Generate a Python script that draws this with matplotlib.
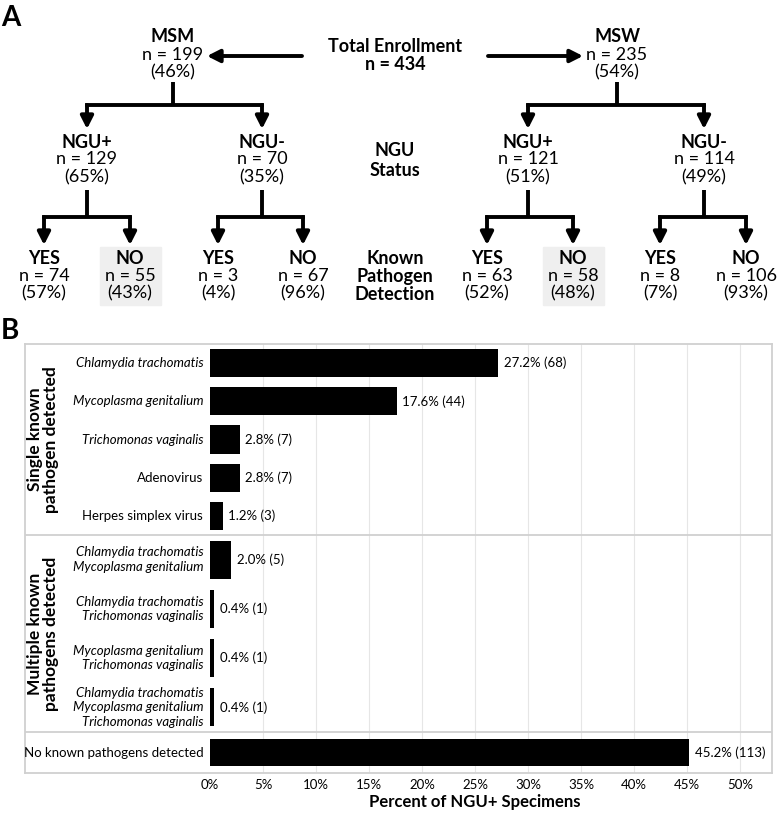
import matplotlib
matplotlib.use('Agg')
import matplotlib.pyplot as plt
from matplotlib.patches import Rectangle

plt.rcParams['font.family'] = ['Lato', 'DejaVu Sans']

# ---- panel A data ----
total_n = 434
pop_labels = ['MSM', 'MSW']
pop_n = [199, 235]
pop_pct = [46, 54]
ngu_labels = ['NGU+', 'NGU-']
ngu_n = [[129, 70], [121, 114]]
ngu_pct = [[65, 35], [51, 49]]
det_labels = ['YES', 'NO']
det_n = [[[74, 55], [3, 67]], [[63, 58], [8, 106]]]
det_pct = [[[57, 43], [4, 96]], [[52, 48], [7, 93]]]

# ---- panel B data ----
categories = ['Chlamydia trachomatis', 'Mycoplasma genitalium', 'Trichomonas vaginalis',
              'Adenovirus', 'Herpes simplex virus',
              'Chlamydia trachomatis\nMycoplasma genitalium',
              'Chlamydia trachomatis\nTrichomonas vaginalis',
              'Mycoplasma genitalium\nTrichomonas vaginalis',
              'Chlamydia trachomatis\nMycoplasma genitalium\nTrichomonas vaginalis',
              'No known pathogens detected']
italic = [True, True, True, False, False, True, True, True, True, False]
pct = [27.2, 17.6, 2.8, 2.8, 1.2, 2.0, 0.4, 0.4, 0.4, 45.2]
counts = [68, 44, 7, 7, 3, 5, 1, 1, 1, 113]
group_labels = ['Single known\npathogen detected', 'Multiple known\npathogens detected', '']
group_sizes = [5, 4, 1]
ticks = [0, 5, 10, 15, 20, 25, 30, 35, 40, 45, 50]

W, H = 777, 813
fig = plt.figure(figsize=(W / 100, H / 100), dpi=100)

# ---------------- panel A (pixel coordinates) ----------------
axA = fig.add_axes([0, 0, 1, 1])
axA.set_xlim(0, W)
axA.set_ylim(H, 0)
axA.axis('off')

FS = 13
LW = 2.8
DY = 17.5


def node(x, y, head, n, p, shade=False):
    if shade:
        axA.add_patch(Rectangle((x - 30.5, y - 11), 61, 58, color='#efefef', zorder=0))
    axA.text(x, y, head, ha='center', va='center', fontsize=FS, fontweight='bold')
    axA.text(x, y + DY, f'n = {n}', ha='center', va='center', fontsize=FS)
    axA.text(x, y + 2 * DY, f'({p}%)', ha='center', va='center', fontsize=FS)


def arrow(x0, y0, x1, y1):
    axA.annotate('', xy=(x1, y1), xytext=(x0, y0),
                 arrowprops=dict(arrowstyle='-|>,head_length=0.75,head_width=0.38',
                                 lw=LW, color='k', mutation_scale=10,
                                 shrinkA=0, shrinkB=0))


def branch(px, cxs, ya, yb, yc):
    axA.plot([px, px], [ya, yb], color='k', lw=LW, solid_capstyle='butt')
    axA.plot([cxs[0], cxs[1]], [yb, yb], color='k', lw=LW, solid_capstyle='projecting')
    for cx in cxs:
        arrow(cx, yb, cx, yc)


pop_x = [173, 617]
ngu_x = [[87, 262], [528, 704]]
det_x = [[[44, 130], [218, 303]], [[487, 573], [660, 746]]]

axA.text(1, 18, 'A', fontsize=20, fontweight='bold', va='center', ha='left')
axA.text(1, 331, 'B', fontsize=20, fontweight='bold', va='center', ha='left')

axA.text(395, 46, 'Total Enrollment', ha='center', va='center', fontsize=FS, fontweight='bold')
axA.text(395, 65, f'n = {total_n}', ha='center', va='center', fontsize=FS, fontweight='bold')
arrow(302, 56, 207, 56)
arrow(488, 56, 583, 56)

axA.text(395, 151, 'NGU', ha='center', va='center', fontsize=FS, fontweight='bold')
axA.text(395, 170, 'Status', ha='center', va='center', fontsize=FS, fontweight='bold')
for k, s in enumerate(['Known', 'Pathogen', 'Detection']):
    axA.text(395, 258 + k * 18, s, ha='center', va='center', fontsize=FS, fontweight='bold')

for i in range(2):
    node(pop_x[i], 37, pop_labels[i], pop_n[i], pop_pct[i])
    branch(pop_x[i], ngu_x[i], 82, 105, 129)
    for j in range(2):
        node(ngu_x[i][j], 142, ngu_labels[j], ngu_n[i][j], ngu_pct[i][j])
        branch(ngu_x[i][j], det_x[i][j], 190, 217, 245)
        for k in range(2):
            node(det_x[i][j][k], 258, det_labels[k], det_n[i][j][k], det_pct[i][j][k],
                 shade=(j == 0 and k == 1))

# ---------------- panel B ----------------
ax = fig.add_axes([25 / W, 40 / H, 747 / W, 429 / H])
slot = [38.2, 49.25, 41.0]
frac = [0.74, 0.77, 0.68]
ys, hs, bounds = [], [], []
top = 0
for g, size in enumerate(group_sizes):
    for k in range(size):
        ys.append(top + slot[g] * (k + 0.5))
        hs.append(slot[g] * frac[g])
    top += slot[g] * size
    bounds.append(top)

ax.set_ylim(top, 0)
ax.set_xlim(-17.45, 53.0)

for t in ticks[1:]:
    ax.axvline(t, color='#e6e6e6', lw=0.8, zorder=0)
for b in bounds[:-1]:
    ax.axhline(b, color='#d0d0d0', lw=1.3, zorder=1)

ax.barh(ys, pct, height=hs, color='black', zorder=2)

for y, p, c, lab, it in zip(ys, pct, counts, categories, italic):
    ax.text(p + 0.5, y, f'{p:.1f}% ({c})', va='center', ha='left', fontsize=9.5)
    ax.text(-0.65, y, lab, va='center', ha='right', fontsize=9.5,
            style='italic' if it else 'normal', linespacing=1.25)

start = 0
for g, lab in enumerate(group_labels):
    if lab:
        mid = (start + bounds[g]) / 2
        ax.text(0.024, mid, lab, transform=ax.get_yaxis_transform(), rotation=90,
                ha='center', va='center', fontsize=12.5, fontweight='bold', linespacing=1.0)
    start = bounds[g]

ax.set_xticks(ticks)
ax.set_xticklabels([f'{t}%' for t in ticks], fontsize=9.5)
ax.set_yticks([])
ax.tick_params(axis='x', length=0, pad=4)
for s in ax.spines.values():
    s.set_color('#d0d0d0')
    s.set_linewidth(1.3)
ax.set_xlabel('Percent of NGU+ Specimens', fontsize=12, fontweight='bold')
ax.xaxis.set_label_coords((25 - (-17.45)) / (53.0 + 17.45), -0.048)

fig.savefig('out.png', dpi=100)
